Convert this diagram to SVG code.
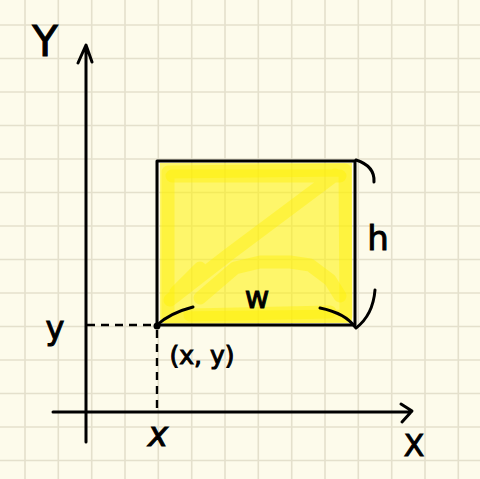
<svg xmlns="http://www.w3.org/2000/svg" width="480" height="479" viewBox="0 0 480 479">
<defs>
<style>
.grid line{stroke:#e4e0cc;stroke-width:1.6}
.ink{fill:none;stroke:#000;stroke-width:3;stroke-linecap:round;stroke-linejoin:round}
.dash{fill:none;stroke:#000;stroke-width:2.4;stroke-dasharray:8 6}
.hl{fill:none;stroke:#fff000;stroke-opacity:0.4;stroke-width:13;stroke-linecap:round;stroke-linejoin:round}
.lbl{font-family:"DejaVu Sans",sans-serif;fill:#000;stroke:#000;stroke-width:1;text-anchor:middle}
</style>
</defs>
<rect width="480" height="479" fill="#fdfbeb"/>
<g class="grid">
<line x1="25" y1="0" x2="25" y2="479"/><line x1="58.3" y1="0" x2="58.3" y2="479"/><line x1="91.7" y1="0" x2="91.7" y2="479"/><line x1="125" y1="0" x2="125" y2="479"/><line x1="158.3" y1="0" x2="158.3" y2="479"/><line x1="191.7" y1="0" x2="191.7" y2="479"/><line x1="225" y1="0" x2="225" y2="479"/><line x1="258.3" y1="0" x2="258.3" y2="479"/><line x1="291.7" y1="0" x2="291.7" y2="479"/><line x1="325" y1="0" x2="325" y2="479"/><line x1="358.3" y1="0" x2="358.3" y2="479"/><line x1="391.7" y1="0" x2="391.7" y2="479"/><line x1="425" y1="0" x2="425" y2="479"/><line x1="458.3" y1="0" x2="458.3" y2="479"/>
<line x1="0" y1="25" x2="480" y2="25"/><line x1="0" y1="58.5" x2="480" y2="58.5"/><line x1="0" y1="92" x2="480" y2="92"/><line x1="0" y1="125.5" x2="480" y2="125.5"/><line x1="0" y1="159" x2="480" y2="159"/><line x1="0" y1="192.5" x2="480" y2="192.5"/><line x1="0" y1="226" x2="480" y2="226"/><line x1="0" y1="259.5" x2="480" y2="259.5"/><line x1="0" y1="293" x2="480" y2="293"/><line x1="0" y1="326.5" x2="480" y2="326.5"/><line x1="0" y1="360" x2="480" y2="360"/><line x1="0" y1="393.5" x2="480" y2="393.5"/><line x1="0" y1="427" x2="480" y2="427"/><line x1="0" y1="460.5" x2="480" y2="460.5"/>
</g>
<g id="rect-node">
<rect x="160" y="163" width="192" height="160" fill="#fff200" fill-opacity="0.55"/>
<path class="hl" d="M168 172 L345 170 L346 316 L168 318 Z"/>
<path class="hl" d="M172 176 L340 176 M170 300 L228 255 L335 175 M176 292 L200 268 M200 298 L235 268 L260 262 L290 262 L310 265 L330 280 L340 296 M190 315 L330 312"/>
<rect x="157" y="161" width="198" height="164" class="ink"/>
</g>
<g id="axes">
<path class="ink" d="M86 442 L86 46 M78 63 L86 45 L92 62"/>
<path class="ink" d="M53 412 L411 412 M401 404 L412 411 L402 422"/>
<text class="lbl" x="45" y="56" font-size="42">Y</text>
<text class="lbl" x="414" y="456" font-size="30">X</text>
</g>
<g id="connectors">
<path class="dash" d="M87 325 L155 325"/>
<path class="dash" d="M157 330 L157 408"/>
<circle cx="157" cy="326" r="3.5" fill="#000"/>
<path class="ink" d="M157 325 Q170 313 193 307"/>
<path class="ink" d="M320 308 Q345 313 355 327"/>
<path class="ink" d="M356 160 Q375 166 374 182"/>
<path class="ink" d="M375 290 Q373 315 356 328"/>
</g>
<g id="labels">
<text class="lbl" x="158" y="446" font-size="34" font-style="italic">x</text>
<text class="lbl" x="55" y="339" font-size="32">y</text>
<text class="lbl" x="202" y="364" font-size="25">(x, y)</text>
<text class="lbl" x="378" y="250" font-size="34">h</text>
<text class="lbl" x="257" y="308" font-size="30">w</text>
</g>
</svg>
